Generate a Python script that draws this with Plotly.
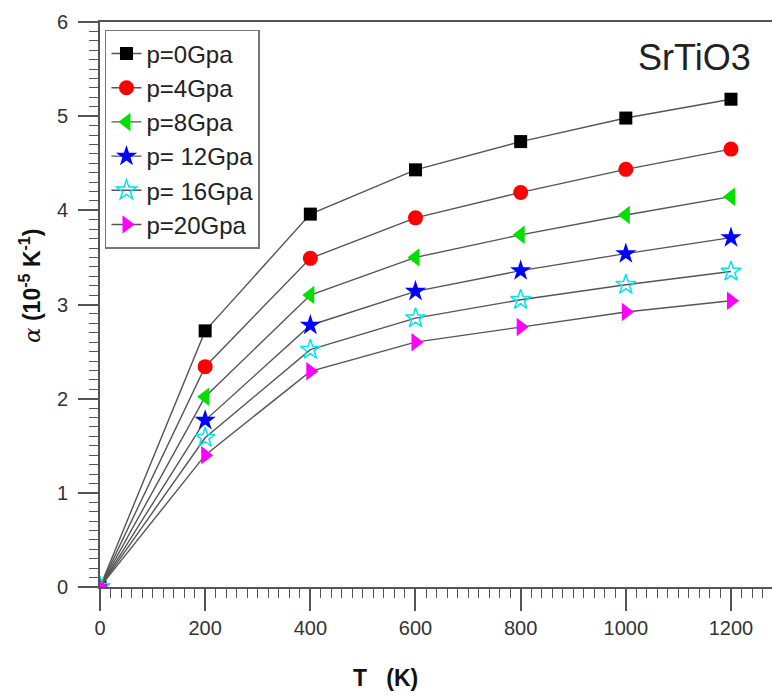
import plotly.graph_objects as go

T = [0, 200, 400, 600, 800, 1000, 1200]
names = ["p=0Gpa", "p=4Gpa", "p=8Gpa", "p= 12Gpa", "p= 16Gpa", "p=20Gpa"]
p0 = [0, 2.72, 3.96, 4.43, 4.73, 4.98, 5.18]
p4 = [0, 2.34, 3.49, 3.92, 4.19, 4.435, 4.65]
p8 = [0, 2.02, 3.10, 3.50, 3.74, 3.95, 4.145]
p12 = [0, 1.77, 2.78, 3.14, 3.36, 3.54, 3.71]
p16 = [0, 1.585, 2.52, 2.855, 3.05, 3.21, 3.35]
p20 = [0, 1.40, 2.29, 2.60, 2.76, 2.92, 3.04]
series = [p0, p4, p8, p12, p16, p20]

symbols = ["square", "circle", "triangle-left", "star", "star-open", "triangle-right"]
colors = ["#000000", "#ff0000", "#00e000", "#0000ff", "#00e5ee", "#ff00ff"]
sizes = [13, 15, 16, 16, 15, 16]

fig = go.Figure()
for name, ys, sym, col, sz in zip(names, series, symbols, colors, sizes):
    fig.add_trace(go.Scatter(
        x=T, y=ys, name=name, mode="lines+markers",
        line=dict(color="#555555", width=1.4),
        marker=dict(symbol=sym, color=col, size=sz,
                    line=dict(color=col, width=1.5 if sym == "star-open" else 0)),
    ))

axis_font = dict(family="Arial, Liberation Sans, sans-serif", size=20, color="#333333")

fig.update_layout(
    width=772, height=698,
    margin=dict(l=100, r=0, t=22, b=111),
    paper_bgcolor="white", plot_bgcolor="white",
    showlegend=True,
    legend=dict(
        x=0.0074, y=0.986, xanchor="left", yanchor="top",
        bgcolor="white", bordercolor="#777777", borderwidth=1.5,
        font=dict(family="Arial, Liberation Sans, sans-serif", size=24, color="#222222"),
        itemsizing="trace", tracegroupgap=0,
    ),
    xaxis=dict(
        range=[0, 1278], tickvals=[0, 200, 400, 600, 800, 1000, 1200],
        ticks="outside", ticklen=22, tickwidth=1.6, tickcolor="#555555",
        showline=True, linecolor="#555555", linewidth=2, mirror=True,
        showgrid=False, zeroline=False, tickfont=axis_font,
        minor=dict(dtick=20, ticks="outside", ticklen=9, tickwidth=1.4, tickcolor="#555555", showgrid=False),
    ),
    yaxis=dict(
        range=[0, 6], tickvals=[0, 1, 2, 3, 4, 5, 6],
        ticks="outside", ticklen=20, tickwidth=1.6, tickcolor="#555555",
        showline=True, linecolor="#555555", linewidth=2,
        showgrid=False, zeroline=False, tickfont=axis_font, ticklabelstandoff=6,
        minor=dict(dtick=0.1, ticks="outside", ticklen=9, tickwidth=1.4, tickcolor="#555555", showgrid=False),
    ),
    annotations=[
        dict(text="SrTiO3", xref="paper", yref="paper", x=0.972, y=0.938,
             xanchor="right", yanchor="middle", showarrow=False,
             font=dict(family="Arial, Liberation Sans, sans-serif", size=36, color="#222222")),
        dict(text="<b>T   (K)</b>", xref="paper", yref="paper", x=(385 - 100) / 672, y=-(678 - 587) / 565,
             xanchor="center", yanchor="middle", showarrow=False,
             font=dict(family="Arial, Liberation Sans, sans-serif", size=23, color="#111111")),
        dict(text="<span style='font-family:DejaVu Serif, serif;font-style:italic;font-weight:normal'>α</span> <b>(10<sup>-5</sup> K<sup>-1</sup>)</b>",
             xref="paper", yref="paper", x=-(100 - 30) / 672, y=(587 - 286) / 565,
             xanchor="center", yanchor="middle", textangle=-90, showarrow=False,
             font=dict(family="Arial, Liberation Sans, sans-serif", size=23, color="#111111")),
    ],
)

fig.write_html("out.html")
